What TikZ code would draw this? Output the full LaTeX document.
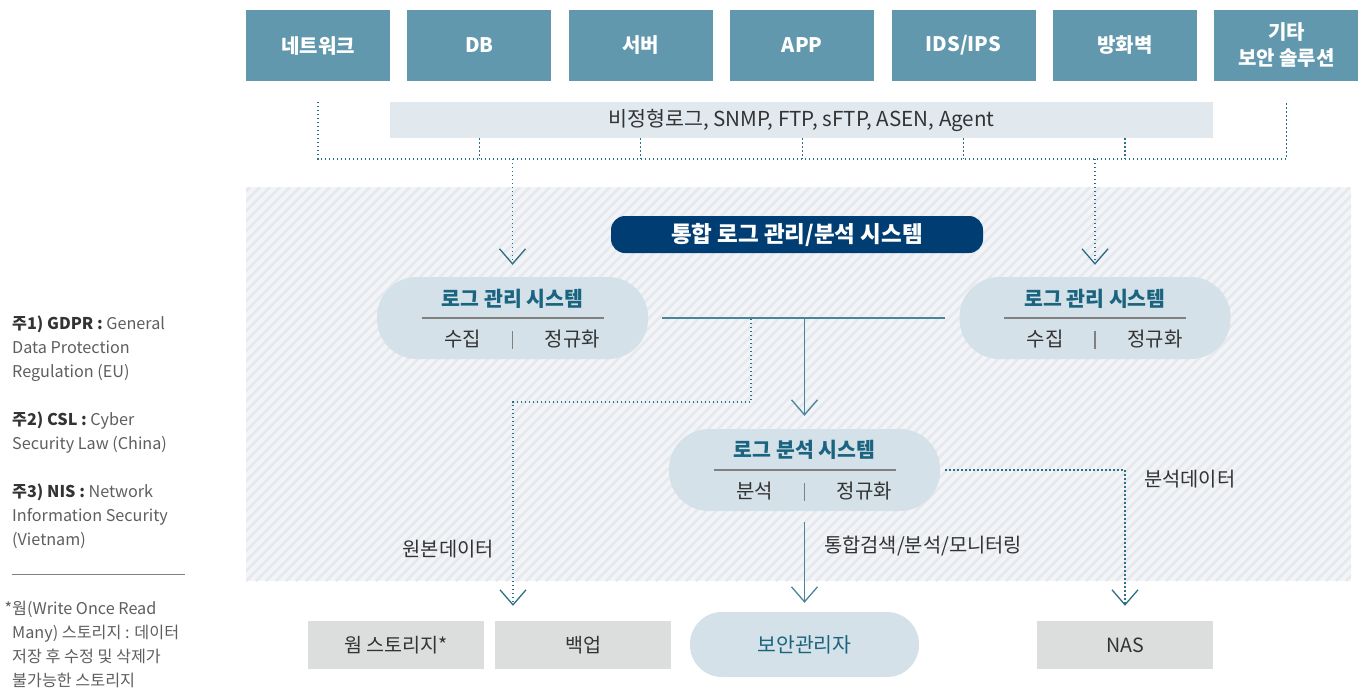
\documentclass[tikz,border=0pt]{standalone}
\usepackage{fontspec}
\setmainfont{Noto Sans CJK KR}
\usepackage{tikz}
\usetikzlibrary{positioning,arrows.meta}

\definecolor{SrcTeal}{HTML}{6198AD}
\definecolor{BarGray}{HTML}{E1E8EE}
\definecolor{DotTeal}{HTML}{2B6E86}
\definecolor{FlowTeal}{HTML}{4A8499}
\definecolor{NavyBlue}{HTML}{003D73}
\definecolor{PillBlue}{HTML}{D5E1E8}
\definecolor{TitleTeal}{HTML}{1A6480}
\definecolor{TextGray}{HTML}{333333}
\definecolor{NoteGray}{HTML}{5E5E5E}
\definecolor{SepGray}{HTML}{808080}
\definecolor{BoxGray}{HTML}{DCDDDD}
\definecolor{HatchBase}{HTML}{F2F4F7}
\definecolor{HatchLine}{HTML}{E5E9ED}

\tikzstyle{SourceBox}=[rectangle, fill=SrcTeal, text=white, minimum width=144pt, minimum height=71pt, inner sep=0pt, align=center, font=\fontsize{20}{26}\selectfont\bfseries]
\tikzstyle{ProtoBar}=[rectangle, fill=BarGray, text=TextGray, minimum width=823pt, minimum height=36pt, inner sep=0pt, font=\fontsize{20.6}{24}\selectfont]
\tikzstyle{SystemTitle}=[rectangle, rounded corners=14pt, fill=NavyBlue, text=white, minimum width=372pt, minimum height=37pt, inner sep=0pt, font=\fontsize{22.5}{26}\selectfont\bfseries]
\tikzstyle{SystemPill}=[rectangle, rounded corners=40pt, fill=PillBlue, minimum width=271pt, minimum height=82pt, inner sep=0pt]
\tikzstyle{PillTitle}=[text=TitleTeal, inner sep=0pt, font=\fontsize{20.5}{24}\selectfont\bfseries]
\tikzstyle{PillItem}=[text=TextGray, inner sep=0pt, font=\fontsize{20}{24}\selectfont]
\tikzstyle{StoreBox}=[rectangle, fill=BoxGray, text=TextGray, minimum width=176pt, minimum height=48pt, inner sep=0pt, font=\fontsize{19.6}{24}\selectfont]
\tikzstyle{AdminPill}=[rectangle, rounded corners=32pt, fill=PillBlue, text=TitleTeal, minimum width=229pt, minimum height=65pt, inner sep=0pt, font=\fontsize{20.5}{24}\selectfont]
\tikzstyle{FlowLabel}=[text=TextGray, inner sep=0pt, font=\fontsize{19.8}{24}\selectfont]
\tikzstyle{NoteText}=[text=NoteGray, anchor=north west, align=left, inner sep=0pt, font=\fontsize{16.2}{24}\selectfont]
\tikzstyle{SepLine}=[draw=SepGray, line width=1.2pt]
\tikzstyle{DotLine}=[draw=DotTeal, line width=1.3pt, dash pattern=on 1.3pt off 2.7pt]
\tikzstyle{FlowLine}=[draw=FlowTeal, line width=1.5pt]
\tikzstyle{OpenTip}=[-{Straight Barb[length=15pt, width=26pt, line width=1.3pt]}]

\begin{document}
\begin{tikzpicture}[x=1pt, y=-1pt]
	\useasboundingbox (0,0) rectangle (1366,689);

	%Fondo
	\fill[HatchBase] (246,187) rectangle (1351,581);
	\begin{scope}
		\clip (246,187) rectangle (1351,581);
		\foreach \s in {-154,-144,...,1356}
			\draw[HatchLine, line width=2.6pt] (\s,581) -- ++(394,-394);
	\end{scope}

	%Fuentes
	\node[SourceBox]	(src1)	at (318,45.5)			{네트워크};
	\node[SourceBox]	(src2)	[right=17pt of src1]	{DB};
	\node[SourceBox]	(src3)	[right=17pt of src2]	{서버};
	\node[SourceBox]	(src4)	[right=17pt of src3]	{APP};
	\node[SourceBox]	(src5)	[right=17pt of src4]	{IDS/IPS};
	\node[SourceBox]	(src6)	[right=17pt of src5]	{방화벽};
	\node[SourceBox]	(src7)	[right=17pt of src6]	{기타\\보안 솔루션};

	\node[ProtoBar]		(bar)	at (801.5,120)		{비정형로그, SNMP, FTP, sFTP, ASEN, Agent};
	\coordinate		(bus)	at (0,159);

	%Sistemas
	\node[SystemTitle]	(suite)	at (797,234.5)		{통합 로그 관리/분석 시스템};

	\node[SystemPill]	(lmgr)	at (512.5,318)		{};
	\node[PillTitle]	(lmgrT)	at ([yshift=19pt]lmgr.center)	{로그 관리 시스템};
	\node[PillItem]		(lmgrA)	at ([xshift=-50pt, yshift=-21pt]lmgr.center)	{수집};
	\node[PillItem]		(lmgrB)	at ([xshift=60pt, yshift=-21pt]lmgr.center)	{정규화};

	\node[SystemPill]	(rmgr)	at (1095,318)		{};
	\node[PillTitle]	(rmgrT)	at ([yshift=19pt]rmgr.center)	{로그 관리 시스템};
	\node[PillItem]		(rmgrA)	at ([xshift=-50pt, yshift=-21pt]rmgr.center)	{수집};
	\node[PillItem]		(rmgrB)	at ([xshift=60pt, yshift=-21pt]rmgr.center)	{정규화};

	\node[SystemPill]	(ana)	at (804.5,470)		{};
	\node[PillTitle]	(anaT)	at ([yshift=20pt]ana.center)	{로그 분석 시스템};
	\node[PillItem]		(anaA)	at ([xshift=-50pt, yshift=-21pt]ana.center)	{분석};
	\node[PillItem]		(anaB)	at ([xshift=60pt, yshift=-21pt]ana.center)	{정규화};

	\foreach \p in {lmgr,rmgr,ana}{
		\draw[SepLine] ([xshift=-91pt]\p.center) -- ([xshift=91pt]\p.center);
		\draw[SepLine] ([yshift=-13pt]\p.center) -- ([yshift=-31pt]\p.center);
	}

	%Destinos
	\node[StoreBox]		(warm)	at (396,645)			{웜 스토리지*};
	\node[StoreBox]		(backup)	[right=11pt of warm]	{백업};
	\node[AdminPill]	(admin)	at (804.5,644.5)		{보안관리자};
	\node[StoreBox]		(nas)	at (1125,645)			{NAS};

	%Etiquetas
	\node[FlowLabel, anchor=east]	(rawlbl)	at (494,549)	{원본데이터};
	\node[FlowLabel, anchor=west]	(srchlbl)	at (824,546)	{통합검색/분석/모니터링};
	\node[FlowLabel, anchor=west]	(analbl)	at (1144,479)	{분석데이터};

	%Lineas
	\draw[DotLine] (src1 |- bar.north) -- (src1 |- bus) -- (src7 |- bus) -- (src7 |- bar.north);
	\foreach \b in {2,...,6}
		\draw[DotLine] (src\b |- bar.south) -- (src\b |- bus);
	\draw[DotLine, OpenTip, shorten >=12pt] (lmgr.north |- bus) -- (lmgr.north);
	\draw[DotLine, OpenTip, shorten >=12pt] (rmgr.north |- bus) -- (rmgr.north);

	\draw[FlowLine] ([xshift=14pt]lmgr.east) -- ([xshift=-14pt]rmgr.west);
	\coordinate (split) at (751,319);
	\coordinate (rawturn) at (513,402);
	\draw[FlowLine, OpenTip, shorten >=13pt] (ana.north |- split) -- (ana.north);
	\draw[DotLine, OpenTip, shorten >=15pt] (split) |- (rawturn) -- (rawturn |- backup.north);
	\draw[DotLine, OpenTip, shorten <=5pt, shorten >=15pt] (ana.east) -| (nas.north);
	\draw[FlowLine, OpenTip, shorten <=11pt, shorten >=9pt] (ana.south) -- (admin.north);

	%Notas
	\node[NoteText]	(note1)	at (12,316)	{{\bfseries\color{TextGray}주1) GDPR :} General\\Data Protection\\Regulation (EU)};
	\node[NoteText]	(note2)	at (12,412)	{{\bfseries\color{TextGray}주2) CSL :} Cyber\\Security Law (China)};
	\node[NoteText]	(note3)	at (12,484)	{{\bfseries\color{TextGray}주3) NIS :} Network\\Information Security\\(Vietnam)};
	\draw[draw=SepGray, line width=0.8pt] (12,574) -- (185,574);
	\node[NoteText]	(note4)	at (12,601)	{\llap{*}웜(Write Once Read\\Many) 스토리지 : 데이터\\저장 후 수정 및 삭제가\\불가능한 스토리지};

\end{tikzpicture}
\end{document}
